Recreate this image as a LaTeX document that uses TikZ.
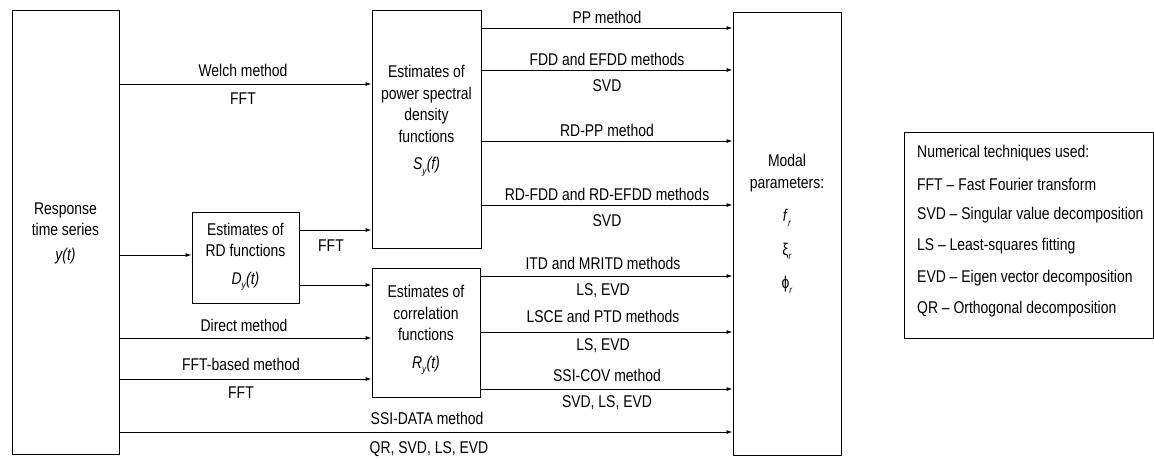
\documentclass[tikz,border=0pt]{standalone}
\usepackage{fontspec}
\setmainfont{Liberation Sans}[FakeStretch=0.82]
\usetikzlibrary{arrows.meta}
\newcommand{\subx}[1]{\raisebox{-0.5ex}{\fontsize{10}{10}\selectfont\textit{#1}}}
\begin{document}
\begin{tikzpicture}[x=1pt,y=-1pt,
  box/.style={draw,line width=0.9pt,inner sep=0pt},
  arr/.style={line width=0.9pt,-{Latex[length=6pt,width=4pt]}},
  lbl/.style={inner sep=0pt,font=\fontsize{17}{21}\selectfont},
  txt/.style={inner sep=0pt,align=center,font=\fontsize{17}{21.5}\selectfont},
  leg/.style={inner sep=0pt,anchor=west,font=\fontsize{17}{18}\selectfont}]
\useasboundingbox (0,0) rectangle (1154,459);
% boxes
\node[box,minimum width=107pt,minimum height=444pt] (resp) at (65.5,232) {};
\node[box,minimum width=109pt,minimum height=238pt] (psd) at (426.5,129) {};
\node[box,minimum width=107pt,minimum height=91pt] (rd) at (245.5,257.5) {};
\node[box,minimum width=108pt,minimum height=129pt] (corr) at (426,332.5) {};
\node[box,minimum width=108pt,minimum height=443pt] (modal) at (787,233.5) {};
\node[box,minimum width=249pt,minimum height=206pt] (legend) at (1028.5,235) {};
% box texts
\node[txt] (resptxt) at (65.5,233) {Response\\time series\\[3pt]\textit{y(t)}};
\node[txt] (psdtxt) at (426.5,121) {Estimates of\\power spectral\\density\\functions\\[6pt]\textit{S}\subx{y}\textit{(f)}};
\node[txt] (rdtxt) at (245.5,257) {Estimates of\\RD functions\\[6pt]\textit{D}\subx{y}\textit{(t)}};
\node[txt] (corrtxt) at (426,330) {Estimates of\\correlation\\functions\\[6pt]\textit{R}\subx{y}\textit{(t)}};
\node[txt] (modaltxt) at (787,224) {Modal\\parameters:\\[12pt]\textit{f}\subx{r}\\[12pt]ξ\subx{r}\\[12pt]ϕ\subx{r}};
% legend text
\node[leg] (l1) at (917,153) {Numerical techniques used:};
\node[leg] (l2) at (917,184) {FFT – Fast Fourier transform};
\node[leg] (l3) at (917,215) {SVD – Singular value decomposition};
\node[leg] (l4) at (917,246) {LS – Least-squares fitting};
\node[leg] (l5) at (917,278) {EVD – Eigen vector decomposition};
\node[leg] (l6) at (917,309) {QR – Orthogonal decomposition};
% left arrows
\draw[arr] (resp.east |- 0,84) -- (psd.west |- 0,84);
\draw[arr] (resp.east |- 0,255) -- (rd.west |- 0,255);
\draw[arr] (rd.east |- 0,230) -- (psd.west |- 0,230);
\draw[arr] (rd.east |- 0,285) -- (corr.west |- 0,285);
\draw[arr] (resp.east |- 0,338) -- (corr.west |- 0,338);
\draw[arr] (resp.east |- 0,379) -- (corr.west |- 0,379);
\draw[arr] (resp.east |- 0,432) -- (modal.west |- 0,432);
% right arrows
\draw[arr] (psd.east |- 0,28) -- (modal.west |- 0,28);
\draw[arr] (psd.east |- 0,70) -- (modal.west |- 0,70);
\draw[arr] (psd.east |- 0,141) -- (modal.west |- 0,141);
\draw[arr] (psd.east |- 0,205) -- (modal.west |- 0,205);
\draw[arr] (corr.east |- 0,276) -- (modal.west |- 0,276);
\draw[arr] (corr.east |- 0,332) -- (modal.west |- 0,332);
\draw[arr] (corr.east |- 0,389) -- (modal.west |- 0,389);
% labels
\node[lbl] (a1) at (243,70) {Welch method};
\node[lbl] (a2) at (243,99) {FFT};
\node[lbl] (a3) at (331,246) {FFT};
\node[lbl] (a4) at (244,325) {Direct method};
\node[lbl] (a5) at (241,364) {FFT-based method};
\node[lbl] (a6) at (241,393) {FFT};
\node[lbl] (a7) at (427,418) {SSI-DATA method};
\node[lbl] (a8) at (429,449) {QR, SVD, LS, EVD};
\node[lbl] (b1) at (607,17) {PP method};
\node[lbl] (b2) at (607,59) {FDD and EFDD methods};
\node[lbl] (b3) at (607,86) {SVD};
\node[lbl] (b4) at (607,130) {RD-PP method};
\node[lbl] (b5) at (607,194) {RD-FDD and RD-EFDD methods};
\node[lbl] (b6) at (607,221) {SVD};
\node[lbl] (b7) at (603,263) {ITD and MRITD methods};
\node[lbl] (b8) at (603,291) {LS, EVD};
\node[lbl] (b9) at (603,316) {LSCE and PTD methods};
\node[lbl] (b10) at (603,346) {LS, EVD};
\node[lbl] (b11) at (607,375) {SSI-COV method};
\node[lbl] (b12) at (607,403) {SVD, LS, EVD};
\end{tikzpicture}
\end{document}
